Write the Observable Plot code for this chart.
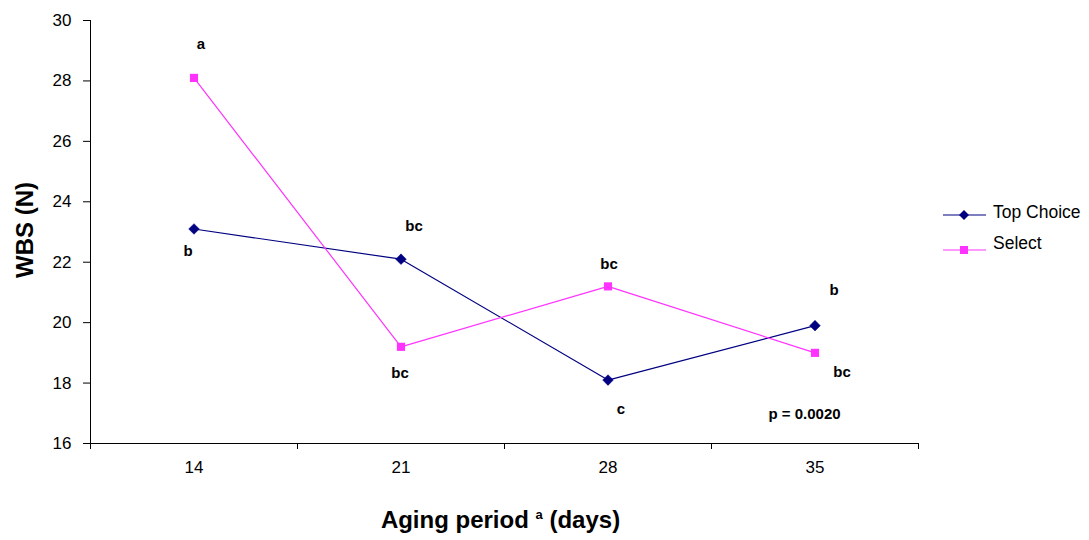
<!DOCTYPE html>
<html>
<head>
<meta charset="utf-8">
<script src="https://cdn.jsdelivr.net/npm/d3@7"></script>
<script src="https://cdn.jsdelivr.net/npm/@observablehq/plot@0.6"></script>
<style>
  html, body { margin: 0; padding: 0; background: #fff; }
  #chart { position: relative; width: 1089px; height: 540px; font-family: "Liberation Sans", Arial, sans-serif; }
  #xtitle { position: absolute; left: 0; width: 1001px; top: 508px; text-align: center;
            font-size: 24px; font-weight: bold; line-height: 23px; color: #000; }
  #xtitle sup { font-size: 13px; vertical-align: 9px; line-height: 0; }
  .legend-item { position: absolute; display: flex; align-items: center; font-size: 17.5px; color: #000; }
  .legend-item svg { display: block; margin-right: 6px; }
</style>
</head>
<body>
<div id="chart"></div>
<script>
// Warner-Bratzler shear force by aging period, two USDA quality grades
const days = [14, 21, 28, 35];
const topChoice = [23.1, 22.1, 18.1, 19.9];
const select = [28.1, 19.2, 21.2, 19.0];
const topChoiceLetters = ["b", "bc", "c", "b"];
const selectLetters = ["a", "bc", "bc", "bc"];
const yTicks = [16, 18, 20, 22, 24, 26, 28, 30];
const seriesNames = ["Top Choice", "Select"];
const pValue = "p = 0.0020";

// category boundaries halfway between aging periods
const step = days[1] - days[0];
const bounds = [...days.map(d => d - step / 2), days[days.length - 1] + step / 2];

const navy = "#000080";
const magenta = "#FF33FF";

// pixel nudges for the significance letters (label placement only)
const topChoiceNudge = [[-6, 22], [13, -33], [13, 29], [19, -35]];
const selectNudge = [[7, -34], [-1, 26], [1, -22], [27, 19]];

const tc = days.map((d, i) => ({day: d, value: topChoice[i], letter: topChoiceLetters[i]}));
const sel = days.map((d, i) => ({day: d, value: select[i], letter: selectLetters[i]}));

const letterMarks = (rows, nudges) => rows.map((r, i) =>
  Plot.text([r], {x: "day", y: "value", text: "letter", dx: nudges[i][0], dy: nudges[i][1],
                  fontSize: 15, fontWeight: "bold", fill: "#000"}));

const plot = Plot.plot({
  width: 1089,
  height: 490,
  marginLeft: 90,
  marginRight: 171,
  marginTop: 20,
  marginBottom: 47,
  style: {fontFamily: "'Liberation Sans', Arial, sans-serif", background: "#fff", color: "#000"},
  x: {type: "linear", domain: [bounds[0], bounds[bounds.length - 1]]},
  y: {domain: [yTicks[0], yTicks[yTicks.length - 1]]},
  marks: [
    Plot.axisY({ticks: yTicks, tickSize: 7, tickPadding: 12, fontSize: 17, label: null, tickFormat: d => d}),
    Plot.axisX({ticks: days, tickSize: 0, tickPadding: 17, fontSize: 17, label: null, tickFormat: d => d}),
    Plot.axisX({ticks: bounds, tickSize: 6, tickFormat: () => "", label: null}),
    Plot.frame({anchor: "left", stroke: "#000"}),
    Plot.frame({anchor: "bottom", stroke: "#000"}),
    Plot.text(["WBS (N)"], {frameAnchor: "left", textAnchor: "middle", dx: -65, dy: -2, rotate: -90,
                            fontSize: 24, fontWeight: "bold", fill: "#000"}),
    Plot.line(tc, {x: "day", y: "value", stroke: navy, strokeWidth: 1.2}),
    Plot.line(sel, {x: "day", y: "value", stroke: magenta, strokeWidth: 1.2}),
    Plot.dot(tc, {x: "day", y: "value", symbol: "diamond2", r: 4.8, fill: navy, stroke: navy, strokeWidth: 0.5}),
    Plot.dot(sel, {x: "day", y: "value", symbol: "square", r: 4.6, fill: magenta}),
    ...letterMarks(tc, topChoiceNudge),
    ...letterMarks(sel, selectNudge),
    Plot.text([pValue], {frameAnchor: "bottom-right", textAnchor: "middle", dx: -114, dy: -25,
                         fontSize: 15, fontWeight: "bold", fill: "#000"})
  ]
});

const chart = document.getElementById("chart");
chart.appendChild(plot);

// x axis title with superscript footnote marker
const xt = document.createElement("div");
xt.id = "xtitle";
xt.innerHTML = "Aging period <sup>a</sup> (days)";
chart.appendChild(xt);

// legend to the right of the plot area
const legendSpecs = [
  {name: seriesNames[0], color: navy, symbol: d3.symbolDiamond2, top: 201},
  {name: seriesNames[1], color: magenta, symbol: d3.symbolSquare, top: 232}
];
legendSpecs.forEach((s, i) => {
  const item = document.createElement("div");
  item.className = "legend-item";
  item.style.left = "943px";
  item.style.top = s.top + "px";
  const svg = d3.create("svg").attr("width", 44).attr("height", 22);
  const ly = i === 0 ? 14 : 18;
  svg.append("line").attr("x1", 0).attr("x2", 43).attr("y1", ly).attr("y2", ly)
    .attr("stroke", s.color).attr("stroke-width", 1.2);
  svg.append("path").attr("d", d3.symbol(s.symbol, 64)()).attr("transform", `translate(21,${ly})`)
    .attr("fill", s.color);
  item.appendChild(svg.node());
  const label = document.createElement("span");
  label.textContent = s.name;
  item.appendChild(label);
  chart.appendChild(item);
});
</script>
</body>
</html>
